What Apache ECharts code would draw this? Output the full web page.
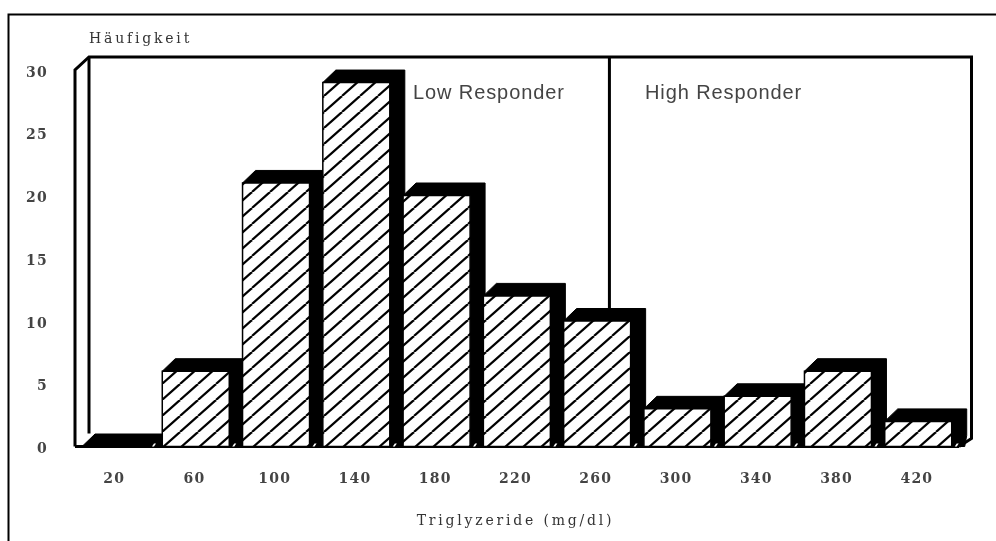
<!DOCTYPE html>
<html><head><meta charset="utf-8">
<style>html,body{margin:0;padding:0;background:#fff}#c{width:996px;height:541px}</style>
<script src="https://cdn.jsdelivr.net/npm/echarts@6/dist/echarts.min.js"></script>
</head><body><div id="c"></div>
<script>
const categories = ['20','60','100','140','180','220','260','300','340','380','420'];
const frequency = [0,6,21,29,20,12,10,3,4,6,2];
const yTicks = {min:0,max:30,step:5};
const yName = 'Häufigkeit';
const xName = 'Triglyzeride (mg/dl)';
const groupLabels = ['Low Responder','High Responder'];

const DX=14, DY=13, SIDE=15, TOP=12.5;
const serif='"DejaVu Serif"';
const sans='"Liberation Sans"';

// The reference sets its text with wide tracking: apply it when the canvas draws text.
const proto=CanvasRenderingContext2D.prototype, origFill=proto.fillText;
proto.fillText=function(t,x,y,m){
  const f=this.font||'';
  let ls='0px';
  if(f.includes('DejaVu Serif')) ls=f.includes('bold')?'1.2px':'2.8px';
  else if(f.includes('Liberation Sans')) ls='0.9px';
  this.letterSpacing=ls;
  const r=m===undefined?origFill.call(this,t,x,y):origFill.call(this,t,x,y,m);
  this.letterSpacing='0px';
  return r;
};

function hatch(){
  const W=18,H=16;
  const c=document.createElement('canvas');c.width=W;c.height=H;
  const g=c.getContext('2d');
  g.fillStyle='#fff';g.fillRect(0,0,W,H);
  g.strokeStyle='#000';g.lineWidth=2.2;
  for(const o of [-W,0,W]){g.beginPath();g.moveTo(o,H);g.lineTo(o+W,0);g.stroke();}
  return c;
}
const pattern={image:hatch(),repeat:'repeat'};

function renderBar(params,api){
  const i=api.value(0), v=api.value(1);
  const band=api.size([1,0])[0];
  const c=api.coord([i,v]), f=api.coord([i,0]);
  const x0=c[0]-band/2+8, x1=x0+67, yT=c[1], y0=f[1];
  return {type:'group',children:[
    {type:'polygon',shape:{points:[[x0,yT],[x0+13,yT-TOP],[x1+SIDE,yT-TOP],[x1+SIDE,y0-DY+2],[x1+SIDE-2,y0],[x1,y0],[x1,yT]]},style:{fill:'#000',stroke:'#000',lineWidth:1}},
    {type:'polygon',shape:{points:[[x1+3,y0],[x1+5,y0-3],[x1+7,y0-3],[x1+5,y0]]},style:{fill:'#fff'}},
    {type:'rect',shape:{x:x0,y:yT,width:x1-x0,height:Math.max(y0-yT,0)},style:{fill:pattern,stroke:'#000',lineWidth:1.5}}
  ]};
}
function renderFrame(params,api){
  const band=api.size([1,0])[0];
  const bl=api.coord([0,0]), tl=api.coord([0,yTicks.max]), br=api.coord([categories.length-1,0]);
  const xL=bl[0]-band/2+1, xR=br[0]+band/2, yB=bl[1], yT=tl[1];
  const st={fill:null,stroke:'#000',lineWidth:3};
  const divX=api.coord([6,0])[0]+band*0.17;
  return {type:'group',children:[
    {type:'polyline',shape:{points:[[xL,yB],[xL,yT],[xL+DX,yT-DY],[xR+DX+0.5,yT-DY],[xR+DX+0.5,yB-8],[xR+2,yB]]},style:st},
    {type:'line',shape:{x1:xL+DX,y1:yT-DY,x2:xL+DX,y2:yB-DY},style:st},
    {type:'line',shape:{x1:xL,y1:yB,x2:xR+2,y2:yB},style:{stroke:'#000',lineWidth:3}},
    {type:'line',shape:{x1:divX,y1:yT-DY,x2:divX,y2:yB-DY},style:st}
  ]};
}
const chart=echarts.init(document.getElementById('c'),null,{renderer:'canvas'});
chart.setOption({
  animation:false,backgroundColor:'#fff',
  grid:{left:74,top:70,width:883,height:376.5},
  xAxis:{type:'category',data:categories,
    axisLine:{show:false},axisTick:{show:false},
    axisLabel:{margin:26,fontFamily:serif,fontSize:14,fontWeight:'bold',color:'#444'},
    name:xName,nameLocation:'middle',nameGap:68,
    nameTextStyle:{fontFamily:serif,fontSize:14,color:'#333'}},
  yAxis:{type:'value',min:yTicks.min,max:yTicks.max,interval:yTicks.step,
    axisLine:{show:false},axisTick:{show:false},splitLine:{show:false},
    axisLabel:{margin:26,fontFamily:serif,fontSize:14,fontWeight:'bold',color:'#444',verticalAlign:'top',lineHeight:6},
    name:yName,nameLocation:'end',nameGap:24,
    nameTextStyle:{fontFamily:serif,fontSize:14,color:'#333',align:'left',padding:[0,0,0,15]}},
  series:[
    {type:'custom',z:1,coordinateSystem:'cartesian2d',renderItem:renderFrame,data:[[0,0]],silent:true},
    {type:'custom',z:2,coordinateSystem:'cartesian2d',renderItem:renderBar,
     data:frequency.map((v,i)=>[i,v]),encode:{x:0,y:1},silent:true}
  ],
  graphic:[
    {type:'text',left:413,top:83,z:5,style:{text:groupLabels[0],font:'20px '+sans,fill:'#444'}},
    {type:'text',left:645,top:83,z:5,style:{text:groupLabels[1],font:'20px '+sans,fill:'#444'}},
    {type:'polyline',z:-1,shape:{points:[[8.5,541],[8.5,14.5],[996,14.5]]},style:{fill:null,stroke:'#000',lineWidth:2}}
  ]
});
</script></body></html>
